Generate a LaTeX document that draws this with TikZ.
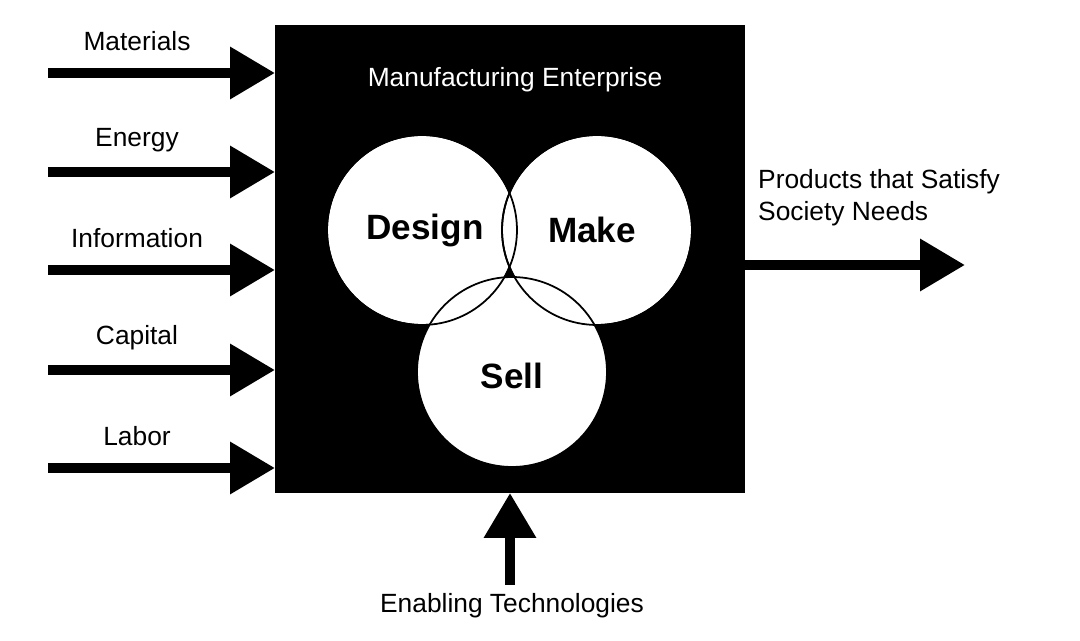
\documentclass[tikz,border=0pt]{standalone}
\usepackage{fontspec}
\setmainfont{Liberation Sans}
\usetikzlibrary{arrows.meta}
\tikzset{
  bigarrow/.style={line width=0.2cm,-{Triangle[length=0.9cm,width=1cm]}},
  lbl/.style={font=\fontsize{15}{18}\selectfont},
  part/.style={circle,draw=black,fill=white,line width=1pt,minimum size=3.8cm},
  parttext/.style={font=\fontsize{20}{24}\selectfont\bfseries}
}
\begin{document}
\begin{tikzpicture}[x=0.02cm,y=-0.02cm]
\useasboundingbox (0,0) rectangle (1080,641);
%enterprise box
\fill[black] (275,25) rectangle (745,493);
\coordinate (boxW) at (275,0);
\node[lbl,text=white] (title) at (515,80) {Manufacturing Enterprise};
%circles
\node[part] (design) at (422,230) {};
\node[part] (make) at (597,230) {};
\node[part] (sell) at (512,372) {};
\draw[line width=1pt] (design.center) circle (1.9cm);
\draw[line width=1pt] (make.center) circle (1.9cm);
\node[parttext] at (425,230) {Design};
\node[parttext] at (592,230) {Make};
\node[parttext] at (512,376) {Sell};
%inputs
\foreach \name/\y in {Materials/73,Energy/172,Information/270,Capital/370,Labor/468}{
  \coordinate (\name-s) at (48,\y);
  \coordinate (\name-e) at (275,\y);
  \draw[bigarrow] (\name-s) -- (\name-e);
  \node[lbl] (\name-l) at (137,\y-32) {\name};
}
%output
\coordinate (out-s) at (745,265);
\coordinate (out-e) at (965,265);
\draw[bigarrow] (out-s) -- (out-e);
\node[lbl,anchor=west,align=left] (out-l) at (752,198) {Products that Satisfy\\Society Needs};
%enabling technologies
\coordinate (tech-s) at (510,585);
\coordinate (tech-e) at (510,493);
\draw[bigarrow] (tech-s) -- (tech-e);
\node[lbl] (tech-l) at (512,606) {Enabling Technologies};
\end{tikzpicture}
\end{document}
